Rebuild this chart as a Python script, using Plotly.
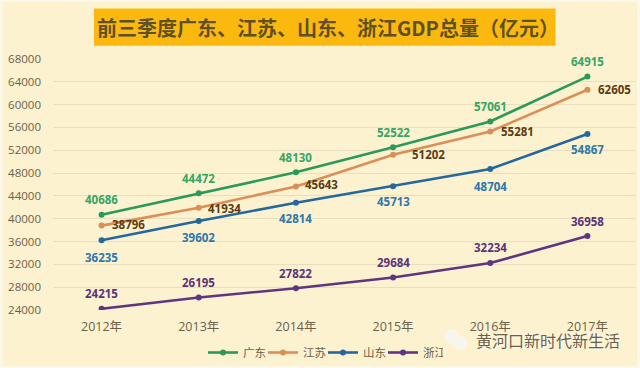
import plotly.graph_objects as go

years = ["2012年", "2013年", "2014年", "2015年", "2016年", "2017年"]
guangdong = [40686, 44472, 48130, 52522, 57061, 64915]
jiangsu = [38796, 41934, 45643, 51202, 55281, 62605]
shandong = [36235, 39602, 42814, 45713, 48704, 54867]
zhejiang = [24215, 26195, 27822, 29684, 32234, 36958]
y_ticks = list(range(24000, 68001, 4000))
title_text = "前三季度广东、江苏、山东、浙江GDP总量（亿元）"
watermark = "黄河口新时代新生活"

FONT = "Open Sans, Noto Sans CJK SC, sans-serif"
CJK = "Noto Sans CJK SC, sans-serif"
L, R, T, B = 53, 636.5, 59.3, 309.7
W, H = R - L, B - T


def px(x):
    return (x - L) / W


def py(y):
    return (B - y) / H


series = [
    ("广东", guangdong, "#2a9a58", "#35a565", [(0, 15)] * 6),
    ("江苏", jiangsu, "#d98f55", "#5c3a12",
     [(27, 1), (26, -1), (26, 2), (35, 0), (27, 0), (27, 0)]),
    ("山东", shandong, "#24689e", "#2f78a8", [(0, -17), (0, -16), (0, -16), (0, -15), (0, -17), (0, -16)]),
    ("浙江", zhejiang, "#5e3580", "#5a3478", [(0, 15), (0, 15), (0, 15), (0, 15), (0, 16), (0, 15)]),
]

fig = go.Figure()
annotations = []
for name, vals, line_col, text_col, offs in series:
    fig.add_trace(go.Scatter(
        x=years, y=vals, name=name, mode="lines+markers",
        line=dict(color=line_col, width=2.6),
        marker=dict(color=line_col, size=6),
    ))
    for yr, v, (dx, dy) in zip(years, vals, offs):
        annotations.append(dict(
            x=yr, y=v, text=f"<b>{v}</b>", showarrow=False,
            xshift=dx, yshift=dy, xanchor="center", yanchor="middle",
            font=dict(family=FONT, size=11.5, color=text_col),
        ))

annotations.append(dict(
    xref="paper", yref="paper", x=px(328), y=py(28),
    xanchor="center", yanchor="middle",
    text=f"<b>{title_text}</b>", showarrow=False,
    font=dict(family=CJK, size=20, color="#5f5026"),
))
annotations.append(dict(
    xref="paper", yref="paper", x=px(548), y=py(340),
    xanchor="center", yanchor="middle",
    text=watermark, showarrow=False,
    font=dict(family=CJK, size=16, color="#6b6048", shadow="0 0 3px #ffffff"),
))

shapes = [
    dict(type="rect", xref="paper", yref="paper", layer="below",
         x0=px(94), x1=px(556), y0=py(46), y1=py(9),
         fillcolor="#fbb910", line=dict(width=0)),
    dict(type="rect", xref="paper", yref="paper", layer="below",
         x0=px(0), x1=px(640), y0=py(368), y1=py(0),
         fillcolor="rgba(0,0,0,0)", line=dict(width=5, color="#fbf8ea")),
    dict(type="circle", xref="paper", yref="paper", layer="above",
         x0=px(445), x1=px(459), y0=py(344), y1=py(329),
         fillcolor="#f7f5ee", line=dict(width=0)),
    dict(type="circle", xref="paper", yref="paper", layer="above",
         x0=px(454), x1=px(468), y0=py(349), y1=py(336),
         fillcolor="#f7f5ee", line=dict(width=0)),
]

fig.update_layout(
    width=640, height=368,
    margin=dict(l=L, r=640 - R, t=T, b=368 - B),
    paper_bgcolor="#fdf2d0", plot_bgcolor="#fdf2d0",
    font=dict(family=FONT, size=11.5, color="#6b6048"),
    annotations=annotations, shapes=shapes,
    legend=dict(orientation="h", xref="container", yref="container",
                x=203 / 640, y=1 - 338 / 368,
                xanchor="left", yanchor="top",
                entrywidth=15, entrywidthmode="pixels",
                itemwidth=30, tracegroupgap=0,
                font=dict(family=CJK, size=11.5, color="#6b6048"),
                bgcolor="rgba(0,0,0,0)"),
    xaxis=dict(type="category", range=[-0.5, 5.5], showgrid=False, showline=False,
               ticks="", tickfont=dict(size=12.5), ticklen=0, ticklabelstandoff=7),
    yaxis=dict(range=[24000, 68000], tickvals=y_ticks, tickformat="d", showline=False,
               zeroline=False, gridcolor="#e9dfc0", gridwidth=1, ticks="",
               tickfont=dict(size=11.5), ticklabelstandoff=11),
)
fig.write_html("out.html", post_script="document.body.style.margin='0';",
               config=dict(displayModeBar=False))
